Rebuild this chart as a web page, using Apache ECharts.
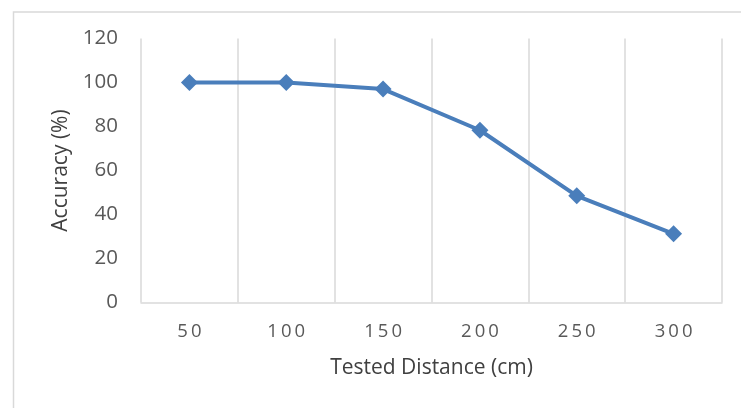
<!DOCTYPE html>
<html>
<head>
<meta charset="utf-8">
<script src="https://cdn.jsdelivr.net/npm/echarts@6/dist/echarts.min.js"></script>
<style>
html,body{margin:0;padding:0;background:#fff;}
#chart{width:741px;height:408px;}
</style>
</head>
<body>
<div id="chart"></div>
<script>
const categories = ["50", "100", "150", "200", "250", "300"];
const accuracy = [100, 100, 97, 78.3, 48.5, 31.2];
const yTicks = { min: 0, max: 120, interval: 20 };
const xTitle = "Tested Distance (cm)";
const yTitle = "Accuracy (%)";

const FONT = "Open Sans";
const chart = echarts.init(document.getElementById('chart'), null, {renderer: 'canvas'});
chart.setOption({
  animation: false,
  backgroundColor: '#ffffff',
  graphic: [{
    type: 'rect', left: 11, top: 9.5,
    shape: { x: 0, y: 0, width: 740, height: 410 },
    style: { fill: 'none', stroke: '#d9d9d9', lineWidth: 1.5 },
    silent: true
  }],
  grid: { left: 141, right: 19, top: 38.5, bottom: 105.5, containLabel: false },
  xAxis: {
    type: 'category',
    data: categories,
    boundaryGap: true,
    name: xTitle,
    nameLocation: 'middle',
    nameGap: 55,
    nameTextStyle: { fontFamily: FONT, fontSize: 21, color: '#404040' },
    axisLine: { show: true, lineStyle: { color: '#d9d9d9', width: 1.5 } },
    axisTick: { show: false },
    axisLabel: {
      margin: 20, fontFamily: FONT, fontSize: 18.5, color: '#595959',
      formatter: v => v.split('').join('\u2009')
    },
    splitLine: { show: true, lineStyle: { color: '#d9d9d9', width: 1.5 } }
  },
  yAxis: {
    type: 'value',
    min: yTicks.min, max: yTicks.max, interval: yTicks.interval,
    name: yTitle,
    nameLocation: 'middle',
    nameGap: 69,
    nameRotate: 90,
    nameTextStyle: { fontFamily: FONT, fontSize: 21, color: '#404040' },
    axisLine: { show: false },
    axisTick: { show: false },
    axisLabel: { margin: 23, fontFamily: FONT, fontSize: 20.5, color: '#595959' },
    splitLine: { show: false }
  },
  series: [{
    type: 'line',
    data: accuracy,
    symbol: 'diamond',
    symbolSize: 17,
    lineStyle: { color: '#4a7ebb', width: 4 },
    itemStyle: { color: '#4a7ebb' }
  }]
});
</script>
</body>
</html>
